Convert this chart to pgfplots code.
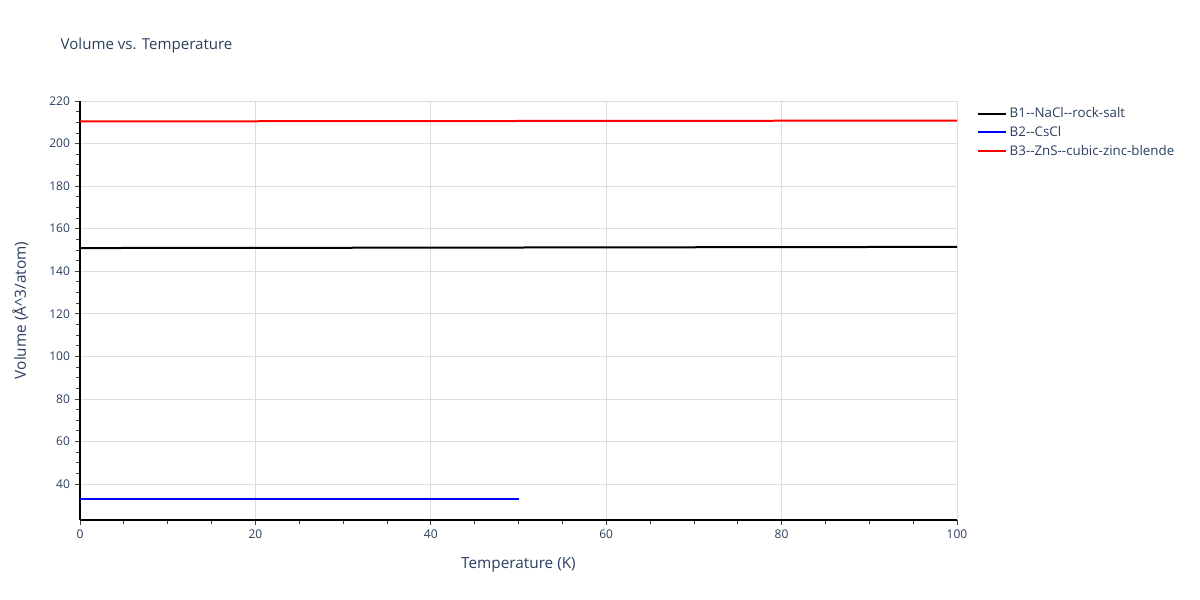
\documentclass[border=0pt]{standalone}
\usepackage{fontspec}
\setmainfont{Open Sans}
\usepackage{pgfplots}
\pgfplotsset{compat=1.18}
\definecolor{plotlytext}{HTML}{2A3F5F}
\definecolor{gridgray}{HTML}{DDDDDD}
\definecolor{tickgray}{HTML}{444444}

\begin{document}
\begin{tikzpicture}
\useasboundingbox (0pt,0pt) rectangle (900pt,450pt);
\node[anchor=west,font=\fontsize{11.3}{13}\selectfont,text=plotlytext] at (42pt,416pt) {Volume vs. Temperature};
\begin{axis}[
  at={(60pt,60pt)}, anchor=south west,
  scale only axis,
  width=657.75pt, height=314.25pt,
  xmin=0, xmax=100, ymin=23.1, ymax=220,
  xtick={0,20,...,100}, ytick={40,60,...,220},
  minor x tick num=3, minor y tick num=3,
  tick align=outside,
  major tick length=4pt, minor tick length=3pt,
  every tick/.style={tickgray, line width=0.6pt},
  axis x line*=bottom, axis y line*=left,
  axis line style={black, line width=0.8pt, -},
  grid=major, major grid style={gridgray, line width=0.6pt},
  tick label style={font=\fontsize{9}{10}\selectfont, text=plotlytext},
  /pgf/number format/assume math mode=true,
  xlabel={Temperature (K)},
  ylabel={Volume (Å\textasciicircum 3/atom)},
  label style={font=\fontsize{11.5}{13}\selectfont, text=plotlytext},
  xlabel style={yshift=-7pt},
  ylabel style={yshift=9pt},
  legend style={at={(1.018,0.997)}, anchor=north west, draw=none, fill=none,
    font=\fontsize{10}{11}\selectfont, text=plotlytext, cells={anchor=west},
    row sep=0.8pt},
  legend image code/.code={\draw[#1, line width=1.5pt] (0pt,0pt) -- (21pt,0pt);},
]
\addplot[black, line width=1.5pt] coordinates {(0,150.9) (25,151.0) (50,151.15) (75,151.3) (100,151.45)};
\addlegendentry{B1-{}-NaCl-{}-rock-salt}
\addplot[blue, line width=1.5pt] coordinates {(0,33.05) (25,33.05) (50,33.05)};
\addlegendentry{B2-{}-CsCl}
\addplot[red, line width=1.5pt] coordinates {(0,210.4) (25,210.5) (50,210.6) (75,210.7) (100,210.8)};
\addlegendentry{B3-{}-ZnS-{}-cubic-zinc-blende}
\end{axis}
\end{tikzpicture}
\end{document}
